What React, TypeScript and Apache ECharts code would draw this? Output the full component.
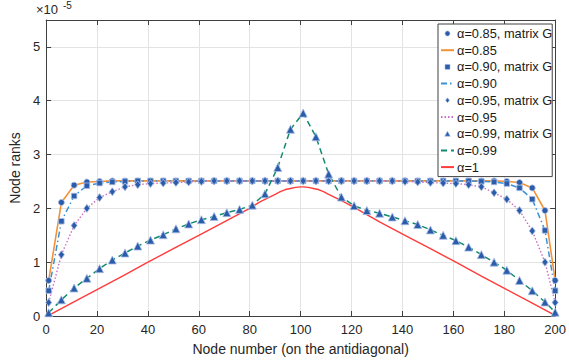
import { useEffect, useRef } from "react";
import * as echarts from "echarts";

// Node positions where the "matrix G" markers (and the α lines) are sampled
const markerNodes = [
  1, 6, 11, 16, 21, 26, 31, 36, 41, 46, 51, 56, 61, 66, 71, 76, 81, 86, 91, 96,
  101, 106, 111, 116, 121, 126, 131, 136, 141, 146, 151, 156, 161, 166, 171,
  176, 181, 186, 191, 196, 200,
];

// Ranks (×10^-5)
const rankAlpha085 = [
  0.66, 2.11, 2.43, 2.49, 2.5, 2.51, 2.51, 2.51, 2.51, 2.51, 2.51, 2.51, 2.51,
  2.51, 2.51, 2.51, 2.51, 2.51, 2.51, 2.51, 2.51, 2.51, 2.51, 2.51, 2.51, 2.51,
  2.51, 2.51, 2.51, 2.51, 2.51, 2.51, 2.51, 2.51, 2.51, 2.51, 2.5, 2.48, 2.38,
  1.96, 0.66,
];
const rankAlpha090 = [
  0.47, 1.76, 2.23, 2.42, 2.47, 2.49, 2.5, 2.51, 2.51, 2.51, 2.51, 2.51, 2.51,
  2.51, 2.51, 2.51, 2.51, 2.51, 2.51, 2.51, 2.51, 2.51, 2.51, 2.51, 2.51, 2.51,
  2.51, 2.51, 2.51, 2.51, 2.51, 2.51, 2.51, 2.51, 2.5, 2.49, 2.46, 2.38, 2.17,
  1.59, 0.47,
];
const rankAlpha095 = [
  0.25, 1.14, 1.68, 2.0, 2.2, 2.31, 2.4, 2.44, 2.46, 2.47, 2.48, 2.49, 2.5,
  2.51, 2.51, 2.51, 2.51, 2.51, 2.51, 2.51, 2.51, 2.51, 2.51, 2.51, 2.51, 2.51,
  2.51, 2.51, 2.5, 2.49, 2.48, 2.47, 2.46, 2.44, 2.4, 2.29, 2.17, 1.96, 1.58,
  1.0, 0.25,
];
const rankAlpha099 = [
  0.06, 0.3, 0.52, 0.7, 0.88, 1.04, 1.17, 1.3, 1.41, 1.51, 1.62, 1.71, 1.79,
  1.85, 1.92, 1.98, 2.06, 2.27, 2.76, 3.47, 3.77, 3.33, 2.64, 2.21, 2.05, 1.96,
  1.91, 1.84, 1.77, 1.7, 1.6, 1.5, 1.4, 1.28, 1.14, 1.0, 0.85, 0.66, 0.47, 0.26,
  0.07,
];

// α = 1 curve (no markers), read at these nodes
const redNodes = [
  1, 10, 20, 30, 40, 50, 60, 70, 80, 84, 87, 90, 92, 94, 96, 98, 100, 101, 103,
  105, 107, 109, 111, 114, 117, 121, 131, 141, 151, 161, 171, 181, 191, 200,
];
const rankAlpha1 = [
  0.01, 0.24, 0.49, 0.74, 1.0, 1.25, 1.5, 1.75, 2.0, 2.12, 2.19, 2.26, 2.31,
  2.35, 2.37, 2.39, 2.4, 2.4, 2.39, 2.37, 2.35, 2.31, 2.26, 2.19, 2.12, 2.02,
  1.75, 1.5, 1.25, 1.0, 0.74, 0.49, 0.24, 0.01,
];

const legendNames = [
  "α=0.85, matrix G",
  "α=0.85",
  "α=0.90, matrix G",
  "α=0.90",
  "α=0.95, matrix G",
  "α=0.95",
  "α=0.99, matrix G",
  "α=0.99",
  "α=1",
];

const FONT = "Liberation Sans, Arial, Helvetica, sans-serif";
const INK = "#262626";
const MARK_FILL = "#2a5caa";
const MARK_EDGE = "#a9bde6";

const ICON_SQUARE = "path://M0,0H10V10H0Z";
const ICON_DIAMOND = "path://M5,0L10,6.5L5,13L0,6.5Z";
const ICON_TRIANGLE = "path://M5,0L10,9H0Z";

export default function App() {
  const ref = useRef<HTMLDivElement>(null);

  useEffect(() => {
    const chart = echarts.init(ref.current!, null, { renderer: "svg" });
    const pair = (xs: number[], ys: number[]) => xs.map((x, i) => [x, ys[i]]);

    const markerSeries = (name: string, ys: number[], symbol: string, size: any) => ({
      name,
      type: "scatter",
      data: pair(markerNodes, ys),
      symbol,
      symbolSize: size,
      z: 4,
      itemStyle: { color: MARK_FILL, borderColor: MARK_EDGE, borderWidth: 0.8, opacity: 1 },
      emphasis: { disabled: true },
    });
    const lineSeries = (name: string, xs: number[], ys: number[], color: string, type: any, width: number) => ({
      name,
      type: "line",
      data: pair(xs, ys),
      symbol: "none",
      showSymbol: false,
      z: 3,
      lineStyle: { color, type, width },
      itemStyle: { color },
      emphasis: { disabled: true },
    });

    const axisCommon = {
      axisLine: { show: true, onZero: false, lineStyle: { color: "#404040", width: 1 } },
      axisTick: { show: true, inside: true, length: 5, lineStyle: { color: "#404040", width: 1 } },
    };

    const hiddenDot = { color: "rgba(0,0,0,0)", borderColor: "rgba(0,0,0,0)", borderWidth: 0 };
    const markerIcon = { color: MARK_FILL, borderColor: MARK_EDGE, borderWidth: 0.6 };

    chart.setOption({
      animation: false,
      backgroundColor: "#ffffff",
      textStyle: { fontFamily: FONT },
      grid: { left: 37, right: 10, top: 20, bottom: 47, containLabel: false },
      xAxis: [
        {
          type: "value",
          min: 0,
          max: 200,
          interval: 20,
          position: "bottom",
          ...axisCommon,
          axisLabel: { color: INK, fontSize: 13, margin: 7, fontFamily: FONT },
          splitLine: { show: true, lineStyle: { color: "#e3e3e3", width: 1 } },
          name: "Node number (on the antidiagonal)",
          nameLocation: "middle",
          nameGap: 26,
          nameTextStyle: { color: INK, fontSize: 14, fontFamily: FONT },
        },
        {
          type: "value",
          min: 0,
          max: 200,
          interval: 20,
          position: "top",
          ...axisCommon,
          axisLabel: { show: false },
          splitLine: { show: false },
        },
      ],
      yAxis: [
        {
          type: "value",
          min: 0,
          max: 5.5,
          interval: 1,
          position: "left",
          ...axisCommon,
          axisLabel: { color: INK, fontSize: 13, margin: 6, fontFamily: FONT, showMaxLabel: false },
          splitLine: { show: true, lineStyle: { color: "#e3e3e3", width: 1 } },
          name: "Node ranks",
          nameLocation: "middle",
          nameGap: 14,
          nameTextStyle: { color: INK, fontSize: 14, fontFamily: FONT },
        },
        {
          type: "value",
          min: 0,
          max: 5.5,
          interval: 1,
          position: "right",
          ...axisCommon,
          axisLabel: { show: false },
          splitLine: { show: false },
        },
      ],
      legend: {
        orient: "vertical",
        left: 438,
        top: 24,
        itemWidth: 13,
        itemHeight: 5,
        itemGap: 3.7,
        padding: [3, 0, 3, 2],
        borderColor: "#404040",
        borderWidth: 1,
        borderRadius: 0,
        backgroundColor: "#ffffff",
        selectedMode: false,
        textStyle: { color: "#1a1a1a", fontSize: 12.8, fontFamily: FONT, padding: [0, 0, 0, -2] },
        data: [
          { name: legendNames[0], icon: "circle", itemStyle: markerIcon },
          { name: legendNames[1], itemStyle: hiddenDot },
          { name: legendNames[2], icon: ICON_SQUARE, itemStyle: markerIcon },
          { name: legendNames[3], itemStyle: hiddenDot },
          { name: legendNames[4], icon: ICON_DIAMOND, itemStyle: markerIcon },
          { name: legendNames[5], itemStyle: hiddenDot },
          { name: legendNames[6], icon: ICON_TRIANGLE, itemStyle: markerIcon },
          { name: legendNames[7], itemStyle: hiddenDot },
          { name: legendNames[8], itemStyle: hiddenDot },
        ],
      },
      graphic: [
        {
          type: "text",
          left: 36,
          top: 3,
          style: { text: "×10", fontSize: 13, fill: INK, fontFamily: FONT },
        },
        {
          type: "text",
          left: 63,
          top: 0,
          style: { text: "-5", fontSize: 10, fill: INK, fontFamily: FONT },
        },
      ],
      series: [
        markerSeries(legendNames[0], rankAlpha085, "circle", 6),
        lineSeries(legendNames[1], markerNodes, rankAlpha085, "#f39237", "solid", 1.6),
        markerSeries(legendNames[2], rankAlpha090, "rect", 5.5),
        lineSeries(legendNames[3], markerNodes, rankAlpha090, "#3a92d8", [6, 3, 1.5, 3], 1.5),
        markerSeries(legendNames[4], rankAlpha095, "diamond", [6, 8]),
        lineSeries(legendNames[5], markerNodes, rankAlpha095, "#cc6fc6", [1.5, 2], 1.4),
        markerSeries(legendNames[6], rankAlpha099, "triangle", 8),
        lineSeries(legendNames[7], markerNodes, rankAlpha099, "#138a70", [6, 4], 1.5),
        lineSeries(legendNames[8], redNodes, rankAlpha1, "#ff3b3b", "solid", 1.4),
      ],
    });

    return () => chart.dispose();
  }, []);

  return (
    <div
      ref={ref}
      style={{ position: "fixed", left: 0, top: 0, width: 569, height: 363 }}
    />
  );
}
